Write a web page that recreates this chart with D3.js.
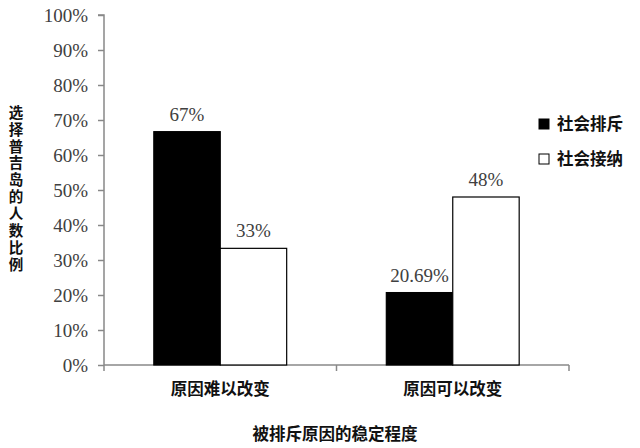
<!DOCTYPE html>
<html>
<head>
<meta charset="utf-8">
<script src="https://cdn.jsdelivr.net/npm/d3@7"></script>
<style>
  body { margin: 0; background: #fff; }
</style>
</head>
<body>
<script>
var wW = 640;
var wH = 448;

// data
var categories = ["原因难以改变", "原因可以改变"];
var seriesNames = ["社会排斥", "社会接纳"];
var exclusionValues = [66.67, 20.69];
var acceptanceValues = [33.33, 48];
var exclusionLabels = ["67%", "20.69%"];
var acceptanceLabels = ["33%", "48%"];
var yTicks = [0, 10, 20, 30, 40, 50, 60, 70, 80, 90, 100];
var yTitle = "选择普吉岛的人数比例";
var xTitle = "被排斥原因的稳定程度";

var cjk = "'Noto Sans CJK SC', sans-serif";
var serif = "'Liberation Serif', 'DejaVu Serif', serif";

var svg = d3.select("body").append("svg")
  .attr("width", wW)
  .attr("height", wH);

// plot area (window.top is reserved, so own names)
var plotL = 104, plotR = 569, plotT = 15, plotB = 365;

var x = d3.scaleBand()
  .domain(categories)
  .range([plotL, plotR])
  .paddingInner(0)
  .paddingOuter(0);

// bars sit together in the middle of each category
var x1 = d3.scaleBand()
  .domain(seriesNames)
  .range([0, x.bandwidth()])
  .paddingOuter(0.75)
  .paddingInner(0);

var y = d3.scaleLinear()
  .domain([0, 100])
  .range([plotB, plotT]);

// y axis
var yAxis = svg.append("g")
  .attr("transform", "translate(" + plotL + ",0)")
  .call(d3.axisLeft(y).tickValues(yTicks).tickSize(6).tickPadding(10)
    .tickFormat(function(d) { return d + "%"; }));
yAxis.selectAll("path, line").attr("stroke", "#888").attr("stroke-width", 1.5);
yAxis.select(".domain").attr("d", "M-6," + plotT + "H0V" + plotB);
yAxis.selectAll("text")
  .attr("font-family", serif)
  .attr("font-size", 19)
  .attr("fill", "#404040");

// x axis
var xAxis = svg.append("g")
  .attr("transform", "translate(0," + plotB + ")");
xAxis.append("line")
  .attr("x1", plotL).attr("x2", plotR)
  .attr("stroke", "#888").attr("stroke-width", 1.5);
var xTickPos = [plotL, plotL + x.bandwidth(), plotR];
xAxis.selectAll(".xt").data(xTickPos).enter().append("line")
  .attr("x1", function(d) { return d; })
  .attr("x2", function(d) { return d; })
  .attr("y1", 0).attr("y2", 6)
  .attr("stroke", "#888").attr("stroke-width", 1.5);
xAxis.selectAll(".xl").data(categories).enter().append("text")
  .attr("x", function(d) { return x(d) + x.bandwidth() / 2; })
  .attr("y", 30)
  .attr("font-family", cjk)
  .attr("font-size", 16.5)
  .attr("font-weight", "bold")
  .attr("fill", "#111")
  .style("text-anchor", "middle")
  .text(function(d) { return d; });

// bars
var rows = categories.map(function(c, i) {
  return [
    { cat: c, s: seriesNames[0], v: exclusionValues[i], label: exclusionLabels[i], fill: "#000" },
    { cat: c, s: seriesNames[1], v: acceptanceValues[i], label: acceptanceLabels[i], fill: "#fff" }
  ];
});
var flat = [].concat.apply([], rows);

svg.selectAll(".bar").data(flat).enter().append("rect")
  .attr("x", function(d) { return x(d.cat) + x1(d.s); })
  .attr("width", x1.bandwidth())
  .attr("y", function(d) { return y(d.v); })
  .attr("height", function(d) { return plotB - y(d.v); })
  .attr("fill", function(d) { return d.fill; })
  .attr("stroke", "#000")
  .attr("stroke-width", 1.2);

svg.selectAll(".vl").data(flat).enter().append("text")
  .attr("x", function(d) { return x(d.cat) + x1(d.s) + x1.bandwidth() / 2; })
  .attr("y", function(d) { return y(d.v) - 11; })
  .attr("font-family", serif)
  .attr("font-size", 19)
  .attr("fill", "#404040")
  .style("text-anchor", "middle")
  .text(function(d) { return d.label; });

// y title, vertical with upright characters
svg.append("text")
  .attr("x", 16)
  .attr("y", 105)
  .attr("font-family", cjk)
  .attr("font-size", 14.5)
  .attr("font-weight", "bold")
  .attr("fill", "#111")
  .style("writing-mode", "vertical-rl")
  .style("text-orientation", "upright")
  .style("letter-spacing", "2.4px")
  .text(yTitle);

// x title
svg.append("text")
  .attr("x", 335)
  .attr("y", 440)
  .attr("font-family", cjk)
  .attr("font-size", 16.5)
  .attr("font-weight", "bold")
  .attr("fill", "#111")
  .style("text-anchor", "middle")
  .text(xTitle);

// legend
var legend = svg.append("g");
seriesNames.forEach(function(name, i) {
  var ly = 124 + i * 35;
  legend.append("rect")
    .attr("x", 539).attr("y", ly - 5)
    .attr("width", 10).attr("height", 10)
    .attr("fill", i === 0 ? "#000" : "#fff")
    .attr("stroke", "#000").attr("stroke-width", 1);
  legend.append("text")
    .attr("x", 557).attr("y", ly + 6)
    .attr("font-family", cjk)
    .attr("font-size", 16.5)
    .attr("font-weight", "bold")
    .attr("fill", "#111")
    .text(name);
});
</script>
</body>
</html>
